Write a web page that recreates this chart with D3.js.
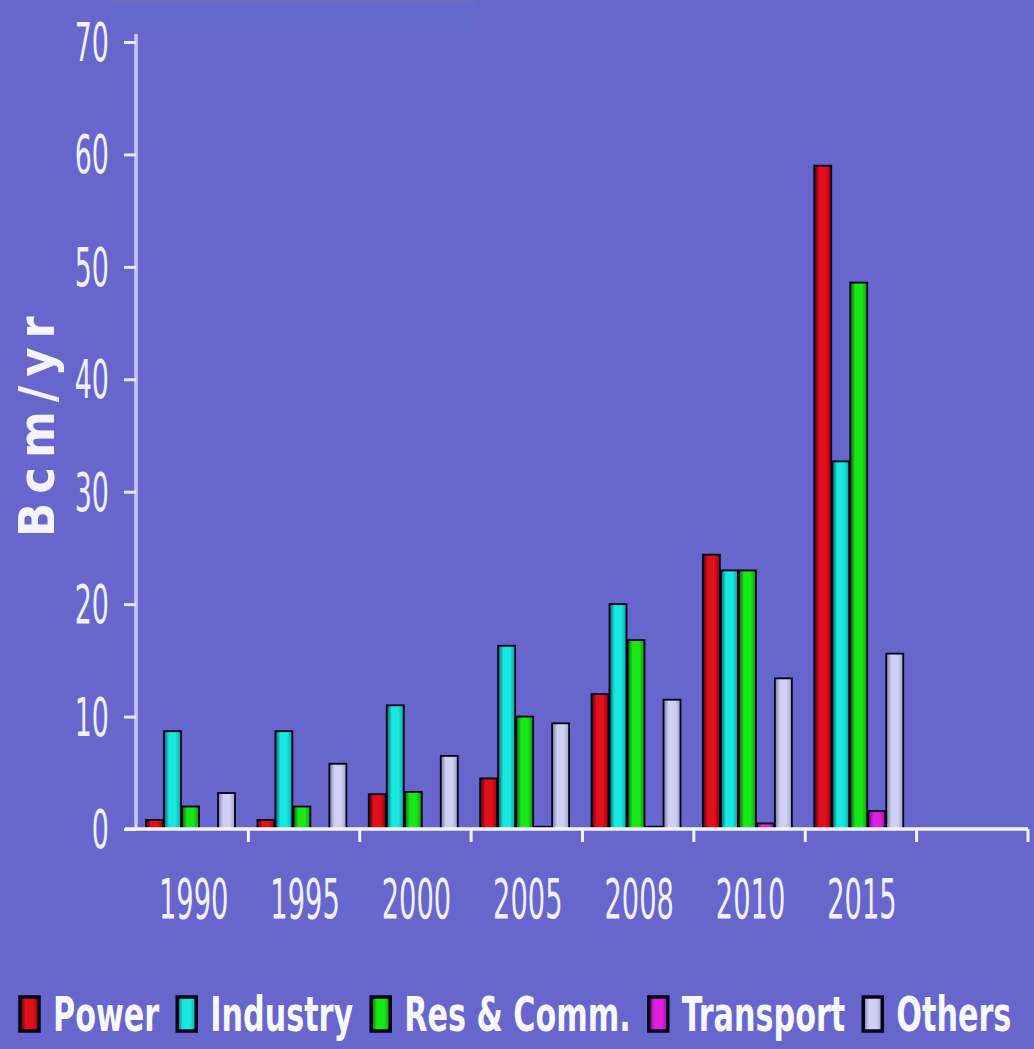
<!DOCTYPE html>
<html>
<head>
<meta charset="utf-8">
<script src="https://cdn.jsdelivr.net/npm/d3@7"></script>
<style>
  html, body { margin: 0; padding: 0; background: #6666cc; }
  svg { display: block; }
  text { font-family: "Liberation Sans Narrow", "DejaVu Sans Condensed", "Liberation Sans", sans-serif; }
</style>
</head>
<body>
<svg id="chart" width="1034" height="1049"></svg>
<script>
// Gas demand by sector, billion cubic metres per year
const years = ["1990", "1995", "2000", "2005", "2008", "2010", "2015"];
const sectors = ["Power", "Industry", "Res & Comm.", "Transport", "Others"];
const power     = [0.8, 0.8, 3.1, 4.5, 12.0, 24.4, 59.0];
const industry  = [8.7, 8.7, 11.0, 16.3, 20.0, 23.0, 32.7];
const resComm   = [2.0, 2.0, 3.3, 10.0, 16.8, 23.0, 48.6];
const transport = [0.0, 0.0, 0.0, 0.2, 0.2, 0.5, 1.6];
const others    = [3.2, 5.8, 6.5, 9.4, 11.5, 13.4, 15.6];
const yTicks = [0, 10, 20, 30, 40, 50, 60, 70];
const yTitle = "Bcm/yr";

const seriesValues = [power, industry, resComm, transport, others];
const palette = {
  "Power":       { dark: "#4a0008", mid: "#e0101a", edge: "#980010" },
  "Industry":    { dark: "#086060", mid: "#18e8e0", edge: "#10a0a0" },
  "Res & Comm.": { dark: "#086010", mid: "#18e818", edge: "#109810" },
  "Transport":   { dark: "#600a60", mid: "#e020e0", edge: "#a010a8" },
  "Others":      { dark: "#7878a0", mid: "#d0d0f4", edge: "#a0a0c8" }
};

const svg = d3.select("#chart");

const plot = { left: 137, right: 1028, top: 42, bottom: 829 };

// eight slots along the axis; the last one is left empty
const slots = d3.range(years.length + 1);
const x = d3.scaleBand().domain(slots).range([plot.left, plot.right]).padding(0);
const xs = d3.scaleBand().domain(sectors)
  .range([9, 9 + 18 * sectors.length]).padding(0);
const y = d3.scaleLinear().domain([0, 70]).range([plot.bottom, plot.top]);

// faint remnant of the heading strip at the very top
svg.append("rect").attr("x", 110).attr("y", 0).attr("width", 366).attr("height", 2)
  .attr("fill", "#7070a8").attr("opacity", 0.7);
svg.append("rect").attr("x", 110).attr("y", 2).attr("width", 366).attr("height", 30)
  .attr("fill", "#5c74d0").attr("opacity", 0.25);

// bar gradients
const defs = svg.append("defs");
sectors.forEach((s, i) => {
  const c = palette[s];
  const g = defs.append("linearGradient").attr("id", "g" + i)
    .attr("x1", 0).attr("x2", 1).attr("y1", 0).attr("y2", 0);
  g.append("stop").attr("offset", "0%").attr("stop-color", c.dark);
  g.append("stop").attr("offset", "30%").attr("stop-color", c.mid);
  g.append("stop").attr("offset", "68%").attr("stop-color", c.mid);
  g.append("stop").attr("offset", "100%").attr("stop-color", c.edge);
});

// bars
const rows = [];
years.forEach((yr, yi) => {
  sectors.forEach((s, si) => {
    rows.push({ yi, si, sector: s, value: seriesValues[si][yi] });
  });
});

svg.append("g").selectAll("rect")
  .data(rows.filter(d => d.value > 0))
  .join("rect")
  .attr("x", d => x(d.yi) + xs(d.sector))
  .attr("width", xs.bandwidth() - 1)
  .attr("y", d => y(d.value))
  .attr("height", d => y(0) - y(d.value))
  .attr("fill", d => `url(#g${d.si})`)
  .attr("stroke", "#000018")
  .attr("stroke-width", 1.8);

// y axis
const yAxis = d3.axisLeft(y).tickValues(yTicks).tickSize(12).tickPadding(14).tickFormat(d3.format("d"));
const gy = svg.append("g").attr("transform", `translate(${plot.left - 1},0)`).call(yAxis);
gy.select(".domain").attr("stroke", "#c8c8ff").attr("stroke-width", 3.5)
  .attr("d", `M0,${plot.top - 8}V${plot.bottom}`);
gy.selectAll(".tick line").attr("stroke", "#e8e8ff").attr("stroke-width", 3);
gy.selectAll(".tick text")
  .attr("fill", "#f0f0ff")
  .attr("font-size", 34)
  .attr("dy", null)
  .attr("x", null)
  .attr("transform", "translate(-27,0) scale(0.88,1.55)")
  .attr("dominant-baseline", "central");

// x axis
const xAxis = d3.axisBottom(x).tickSize(0).tickFormat("");
const gx = svg.append("g").attr("transform", `translate(0,${plot.bottom})`).call(xAxis);
gx.select(".domain").attr("stroke", "#f4f4ff").attr("stroke-width", 3.5)
  .attr("d", `M${plot.left - 12},0H${plot.right}`);
gx.selectAll(".tick").remove();
// slot boundary ticks
const bounds = slots.map(i => x(i)).concat([plot.right]).slice(1);
gx.selectAll("line.b").data(bounds).join("line").attr("class", "b")
  .attr("x1", d => d).attr("x2", d => d).attr("y1", 0).attr("y2", 13)
  .attr("stroke", "#f4f4ff").attr("stroke-width", 3);

// year labels
svg.append("g").selectAll("text").data(years).join("text")
  .attr("transform", (d, i) => `translate(${x(i) + x.bandwidth() / 2 + 1},899) scale(0.82,1.5)`)
  .attr("text-anchor", "middle")
  .attr("dominant-baseline", "central")
  .attr("fill", "#f0f0ff")
  .attr("font-size", 37)
  .text(d => d);

// y title
svg.append("text")
  .attr("transform", "translate(54,537) rotate(-90)")
  .attr("fill", "#f4f4ff")
  .attr("font-size", 50)
  .attr("font-weight", "bold")
  .attr("letter-spacing", 9)
  .text(yTitle);

// legend
const leg = svg.append("g");
const sx = 0.8;
let lx = 18;
sectors.forEach((s, i) => {
  leg.append("rect").attr("x", lx + 2).attr("y", 997).attr("width", 19).attr("height", 34)
    .attr("fill", `url(#g${i})`).attr("stroke", "#000018").attr("stroke-width", 3.5);
  const t = leg.append("text")
    .attr("transform", `translate(${lx + 35},1014) scale(${sx},1.15)`)
    .attr("dominant-baseline", "central")
    .attr("fill", "#f8f8ff")
    .attr("font-size", 42)
    .attr("font-weight", "bold")
    .text(s);
  const w = t.node().getComputedTextLength() * sx;
  lx = lx + 35 + w + 16;
});
</script>
</body>
</html>
